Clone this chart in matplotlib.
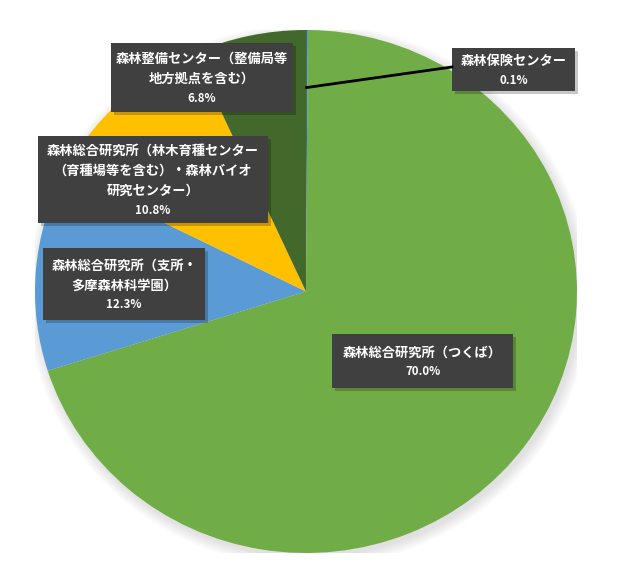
import numpy as np
import matplotlib.pyplot as plt
from matplotlib.patches import Rectangle, Ellipse

plt.rcParams['font.family'] = ['Noto Sans CJK JP', 'DejaVu Sans']

# data (clockwise from 12 o'clock)
labels = ['森林保険センター',
          '森林総合研究所（つくば）',
          '森林総合研究所（支所・\n多摩森林科学園）',
          '森林総合研究所（林木育種センター\n（育種場等を含む）・森林バイオ\n研究センター）',
          '森林整備センター（整備局等\n地方拠点を含む）']
shares = [0.1, 70.0, 12.3, 10.8, 6.8]
colors = ['#2E6A9E', '#70AD47', '#5B9BD5', '#FFC000', '#43682B']

# label box placement in pixels (left, top, right, bottom)
boxes = [(452, 48, 575, 91),
         (332, 334, 513, 388),
         (43, 248, 205, 320),
         (38, 136, 268, 223),
         (111, 43, 293, 112)]

W, H = 640, 573
fig = plt.figure(figsize=(W / 100, H / 100), dpi=100)
fig.patch.set_facecolor('white')

# pie is slightly stretched in the picture
cx, cy, rx, ry = 306, 291.5, 271, 261.5
ax = fig.add_axes([(cx - rx) / W, (H - cy - ry) / H, 2 * rx / W, 2 * ry / H])

# soft shadow
for k in range(10):
    ax.add_patch(Ellipse((0.01, -0.015), 2 + 0.009 * k, 2 + 0.009 * k,
                         fc='#808080', ec='none', alpha=0.025, zorder=0))

wedges, _ = ax.pie(shares, colors=colors, startangle=90, counterclock=False,
                   wedgeprops=dict(linewidth=0), radius=1.0)
for w in wedges:
    w.set_zorder(1)
ax.set_aspect('auto')
ax.set_xlim(-1, 1)
ax.set_ylim(-1, 1)
ax.axis('off')


def px(x, y):
    return x / W, 1 - y / H


for lab, val, (l, t, r, b) in zip(labels, shares, boxes):
    # shadow
    fig.patches.append(Rectangle(px(l + 3, b + 3), (r - l) / W, (b - t) / H,
                                 transform=fig.transFigure, fc='#000000',
                                 ec='none', alpha=0.22, zorder=2))
    fig.patches.append(Rectangle(px(l, b), (r - l) / W, (b - t) / H,
                                 transform=fig.transFigure, fc='#404040',
                                 ec='none', zorder=3))
    lines = lab.split('\n')
    n = len(lines)
    xm = (l + r) / 2
    total = n * 20 + 19
    y0 = (t + b) / 2 - total / 2 + 11
    for i, ln in enumerate(lines):
        fig.text(*px(xm, y0 + i * 20), ln, ha='center', va='center',
                 color='white', fontsize=9.5, fontweight='bold', zorder=4)
    fig.text(*px(xm, y0 + n * 20 - 1), f'{val:.1f}%', ha='center', va='center',
             color='white', fontsize=8.3, fontweight='bold', zorder=4)

# leader line for the tiny slice
theta = np.deg2rad(90 - 360 * shares[0] / 100 / 2)
sx = cx + rx * 0.78 * np.cos(theta)
sy = cy - ry * 0.78 * np.sin(theta)
l, t, r, b = boxes[0]
fig.lines.append(plt.Line2D([sx / W, l / W], [1 - sy / H, 1 - 67 / H],
                            transform=fig.transFigure, color='black',
                            lw=2, zorder=5))

fig.savefig('out.png', dpi=100)
